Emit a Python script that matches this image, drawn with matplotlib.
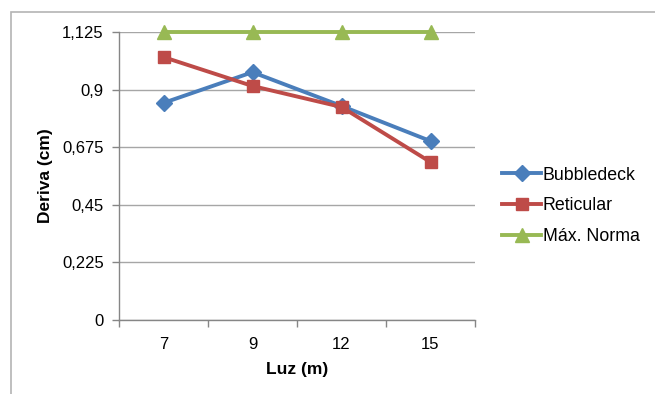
import matplotlib
matplotlib.use("Agg")
import matplotlib.pyplot as plt
from matplotlib.patches import Rectangle
from matplotlib.ticker import FixedLocator

categories = ["7", "9", "12", "15"]
bubbledeck = [0.848, 0.968, 0.836, 0.699]
reticular = [1.027, 0.914, 0.832, 0.617]
max_norma = [1.125, 1.125, 1.125, 1.125]
yticks = [0, 0.225, 0.45, 0.675, 0.9, 1.125]
ytick_labels = ["0", "0,225", "0,45", "0,675", "0,9", "1,125"]

plt.rcParams['font.family'] = ['Liberation Sans', 'DejaVu Sans']

W, H = 655, 394
fig = plt.figure(figsize=(W / 100, H / 100), dpi=100)

# outer chart frame
fig.patches.append(Rectangle((11 / W, 1 - 800 / H), 1000 / W, (800 - 12) / H,
                             transform=fig.transFigure, fill=False,
                             edgecolor="#b4b4b4", linewidth=1.2))

ax = fig.add_axes([119 / W, 1 - 320 / H, (475 - 119) / W, (320 - 32) / H])
x = list(range(len(categories)))

ax.plot(x, bubbledeck, color="#4A7EBB", lw=2.8, marker="D", ms=8,
        label="Bubbledeck", zorder=3)
ax.plot(x, reticular, color="#BE4B48", lw=2.8, marker="s", ms=9,
        label="Reticular", zorder=3)
ax.plot(x, max_norma, color="#98B954", lw=2.8, marker="^", ms=9.5,
        label="Máx. Norma", zorder=3, clip_on=False)

ax.set_xlim(-0.5, len(categories) - 0.5)
ax.set_ylim(0, 1.125)
ax.set_yticks(yticks)
ax.set_yticklabels(ytick_labels)
ax.set_xticks(x)
ax.set_xticklabels(categories)
ax.xaxis.set_minor_locator(FixedLocator([i - 0.5 for i in range(len(categories) + 1)]))
ax.tick_params(axis='x', which='major', length=0, pad=12, labelsize=12)
ax.tick_params(axis='x', which='minor', length=5, color="#868686", width=1)
ax.tick_params(axis='y', length=5, color="#868686", width=1, labelsize=12, pad=6)

ax.grid(axis='y', color="#a6a6a6", lw=1)
ax.set_axisbelow(True)
for s in ["top", "right"]:
    ax.spines[s].set_visible(False)
for s in ["left", "bottom"]:
    ax.spines[s].set_color("#868686")
    ax.spines[s].set_linewidth(1)

ax.set_xlabel("Luz (m)", fontsize=12.5, fontweight="bold")
ax.set_ylabel("Deriva (cm)", fontsize=12.5, fontweight="bold")
ax.xaxis.set_label_coords(0.5, (320 - 362) / 288)
ax.yaxis.set_label_coords((53 - 119) / 356, 0.5)

leg = fig.legend(loc="center left", bbox_to_anchor=(486 / W, 1 - 206 / H),
                 frameon=False, fontsize=12.8, handlelength=2.2,
                 handletextpad=0.1, labelspacing=0.78)

fig.savefig("out.png", dpi=100)
